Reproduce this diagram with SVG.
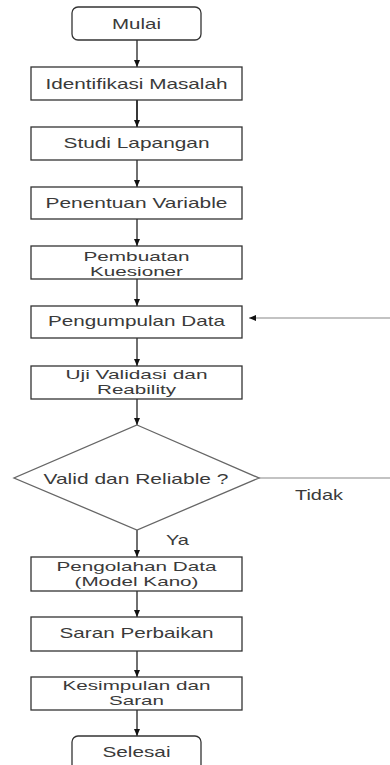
<svg xmlns="http://www.w3.org/2000/svg" width="390" height="765" viewBox="0 0 390 765">
<style>
.box{fill:#fff;stroke:#333;stroke-width:1.3}
.t{font-family:"Liberation Sans",Arial,sans-serif;font-size:15px;fill:#3a3a3a;text-anchor:middle}
.t2{font-size:13px}
.c{fill:none;stroke:#222;stroke-width:1.3}
.g{fill:none;stroke:#888;stroke-width:1.2}
</style>
<defs>
<marker id="ah" markerWidth="7" markerHeight="6" refX="7" refY="3" orient="auto" markerUnits="userSpaceOnUse">
<path d="M0,0 L7,3 L0,6 Z" fill="#111"/>
</marker>
</defs>
<rect width="390" height="765" fill="#fff"/>
<g id="connectors">
<line class="c" x1="137" y1="40" x2="137" y2="67" marker-end="url(#ah)"/>
<line class="c" x1="137" y1="100" x2="137" y2="127" marker-end="url(#ah)" style="stroke-width:1.8"/>
<line class="c" x1="137" y1="160" x2="137" y2="187" marker-end="url(#ah)"/>
<line class="c" x1="137" y1="219" x2="137" y2="246" marker-end="url(#ah)"/>
<line class="c" x1="137" y1="279" x2="137" y2="306" marker-end="url(#ah)"/>
<line class="c" x1="137" y1="338" x2="137" y2="366" marker-end="url(#ah)"/>
<line class="c" x1="137" y1="399" x2="137" y2="425" marker-end="url(#ah)"/>
<line class="c" x1="137" y1="530" x2="137" y2="557" marker-end="url(#ah)"/>
<line class="c" x1="137" y1="591" x2="137" y2="617" marker-end="url(#ah)"/>
<line class="c" x1="137" y1="651" x2="137" y2="677" marker-end="url(#ah)"/>
<line class="c" x1="137" y1="710" x2="137" y2="736" marker-end="url(#ah)"/>
<path class="g" d="M259,478 H396 V318 H249" marker-end="url(#ah)"/>
<text class="t" x="319" y="500" textLength="48" lengthAdjust="spacingAndGlyphs">Tidak</text>
<text class="t" x="177.5" y="545" textLength="23" lengthAdjust="spacingAndGlyphs">Ya</text>
</g>
<g id="mulai">
<rect class="box" x="72" y="7" width="129" height="33" rx="6"/>
<text class="t" x="136.5" y="29" textLength="49" lengthAdjust="spacingAndGlyphs">Mulai</text>
</g>
<g id="identifikasi">
<rect class="box" x="31" y="67" width="211" height="33"/>
<text class="t" x="136.5" y="89" textLength="182" lengthAdjust="spacingAndGlyphs">Identifikasi Masalah</text>
</g>
<g id="studi">
<rect class="box" x="31" y="127" width="211" height="33"/>
<text class="t" x="136.5" y="148" textLength="146" lengthAdjust="spacingAndGlyphs">Studi Lapangan</text>
</g>
<g id="penentuan">
<rect class="box" x="31" y="187" width="211" height="32"/>
<text class="t" x="136.5" y="208" textLength="182" lengthAdjust="spacingAndGlyphs">Penentuan Variable</text>
</g>
<g id="pembuatan">
<rect class="box" x="31" y="246" width="211" height="33"/>
<text class="t t2" x="136.5" y="260.5" textLength="106" lengthAdjust="spacingAndGlyphs">Pembuatan</text>
<text class="t t2" x="136.5" y="275.5" textLength="93" lengthAdjust="spacingAndGlyphs">Kuesioner</text>
</g>
<g id="pengumpulan">
<rect class="box" x="31" y="306" width="211" height="32"/>
<text class="t" x="136.5" y="326" textLength="177" lengthAdjust="spacingAndGlyphs">Pengumpulan Data</text>
</g>
<g id="uji">
<rect class="box" x="31" y="366" width="211" height="33"/>
<text class="t t2" x="136.5" y="378.5" textLength="142" lengthAdjust="spacingAndGlyphs">Uji Validasi dan</text>
<text class="t t2" x="136.5" y="393.5" textLength="79" lengthAdjust="spacingAndGlyphs">Reability</text>
</g>
<g id="keputusan">
<polygon class="box" points="137,425 259,478 137,530 14,478" style="stroke:#666"/>
<text class="t" x="136" y="484" textLength="185" lengthAdjust="spacingAndGlyphs">Valid dan Reliable ?</text>
</g>
<g id="pengolahan">
<rect class="box" x="31" y="557" width="211" height="34"/>
<text class="t t2" x="136.5" y="571" textLength="160" lengthAdjust="spacingAndGlyphs">Pengolahan Data</text>
<text class="t t2" x="136.5" y="586" textLength="124" lengthAdjust="spacingAndGlyphs">(Model Kano)</text>
</g>
<g id="saran">
<rect class="box" x="31" y="617" width="211" height="34"/>
<text class="t" x="136.5" y="638" textLength="154" lengthAdjust="spacingAndGlyphs">Saran Perbaikan</text>
</g>
<g id="kesimpulan">
<rect class="box" x="31" y="677" width="211" height="33"/>
<text class="t t2" x="136.5" y="690" textLength="148" lengthAdjust="spacingAndGlyphs">Kesimpulan dan</text>
<text class="t t2" x="136.5" y="705" textLength="55" lengthAdjust="spacingAndGlyphs">Saran</text>
</g>
<g id="selesai">
<rect class="box" x="72" y="736" width="129" height="36" rx="6"/>
<text class="t" x="136.5" y="757" textLength="68" lengthAdjust="spacingAndGlyphs">Selesai</text>
</g>
</svg>
